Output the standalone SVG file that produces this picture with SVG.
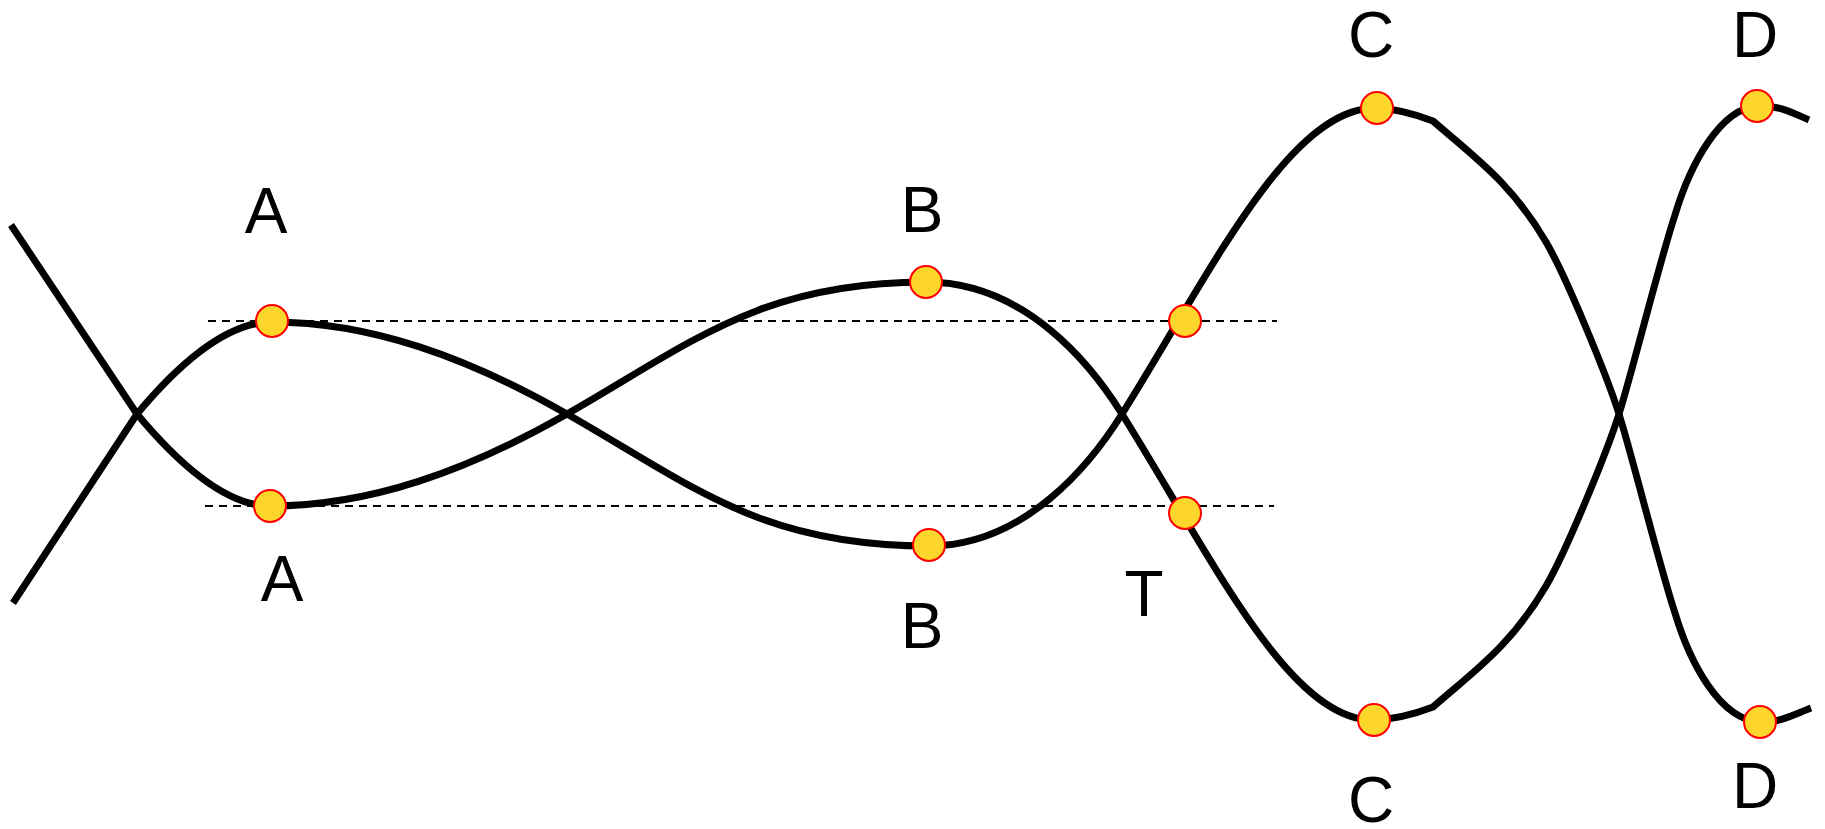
<svg xmlns="http://www.w3.org/2000/svg" width="1825" height="829" viewBox="0 0 1825 829">
<style>
.curve{fill:none;stroke:#000;stroke-width:7;stroke-linejoin:round}
.dash{fill:none;stroke:#000;stroke-width:2;stroke-dasharray:8 6}
.pt{fill:#FCD62B;stroke:#FF0000;stroke-width:2}
.lbl{font-family:"Liberation Sans",Arial,sans-serif;font-size:64px;fill:#000;text-anchor:middle}
</style>
<rect width="1825" height="829" fill="#fff"/>
<g id="connectors">
<line class="dash" x1="208" y1="321" x2="1277" y2="321"/>
<line class="dash" x1="205" y1="506" x2="1274" y2="506"/>
<path class="curve" d="M 11 225 L 137 414 C 177 462, 225 506, 270 506 C 370 506, 467 471, 567 414 C 690 344, 760 282, 926 282 C 1026 282, 1092 366, 1122 414 C 1212 558, 1290 722, 1374 720 C 1400 719, 1420 712, 1433 707 C 1473 672, 1511 646, 1546 586 C 1566 552, 1607 452, 1619 414 C 1632 373, 1660 260, 1675 215 C 1690 165, 1720 108, 1758 106 C 1780 105, 1795 114, 1809 120"/>
<path class="curve" d="M 13 603 L 137 414 C 177 366, 225 322, 272 322 C 370 322, 467 357, 567 414 C 690 484, 760 546, 929 546 C 1026 546, 1092 462, 1122 414 C 1212 270, 1290 106, 1377 108 C 1400 109, 1420 116, 1433 121 C 1473 156, 1511 182, 1546 242 C 1566 276, 1607 376, 1619 414 C 1632 455, 1660 568, 1675 613 C 1690 663, 1720 720, 1760 722 C 1780 723, 1795 714, 1811 708"/>
</g>
<g id="node-A-top"><circle class="pt" cx="272" cy="321" r="16"/><text class="lbl" x="266" y="233">A</text></g>
<g id="node-A-bottom"><circle class="pt" cx="270" cy="506" r="16"/><text class="lbl" x="282" y="601">A</text></g>
<g id="node-B-top"><circle class="pt" cx="926" cy="282" r="16"/><text class="lbl" x="922" y="232">B</text></g>
<g id="node-B-bottom"><circle class="pt" cx="929" cy="545" r="16"/><text class="lbl" x="922" y="648">B</text></g>
<g id="node-T-top"><circle class="pt" cx="1185" cy="321" r="16"/></g>
<g id="node-T-bottom"><circle class="pt" cx="1185" cy="513" r="16"/><text class="lbl" x="1144" y="616">T</text></g>
<g id="node-C-top"><circle class="pt" cx="1377" cy="108" r="16"/><text class="lbl" x="1371" y="57">C</text></g>
<g id="node-C-bottom"><circle class="pt" cx="1374" cy="720" r="16"/><text class="lbl" x="1371" y="822">C</text></g>
<g id="node-D-top"><circle class="pt" cx="1757" cy="106" r="16"/><text class="lbl" x="1755" y="57">D</text></g>
<g id="node-D-bottom"><circle class="pt" cx="1760" cy="722" r="16"/><text class="lbl" x="1755" y="808">D</text></g>
</svg>
